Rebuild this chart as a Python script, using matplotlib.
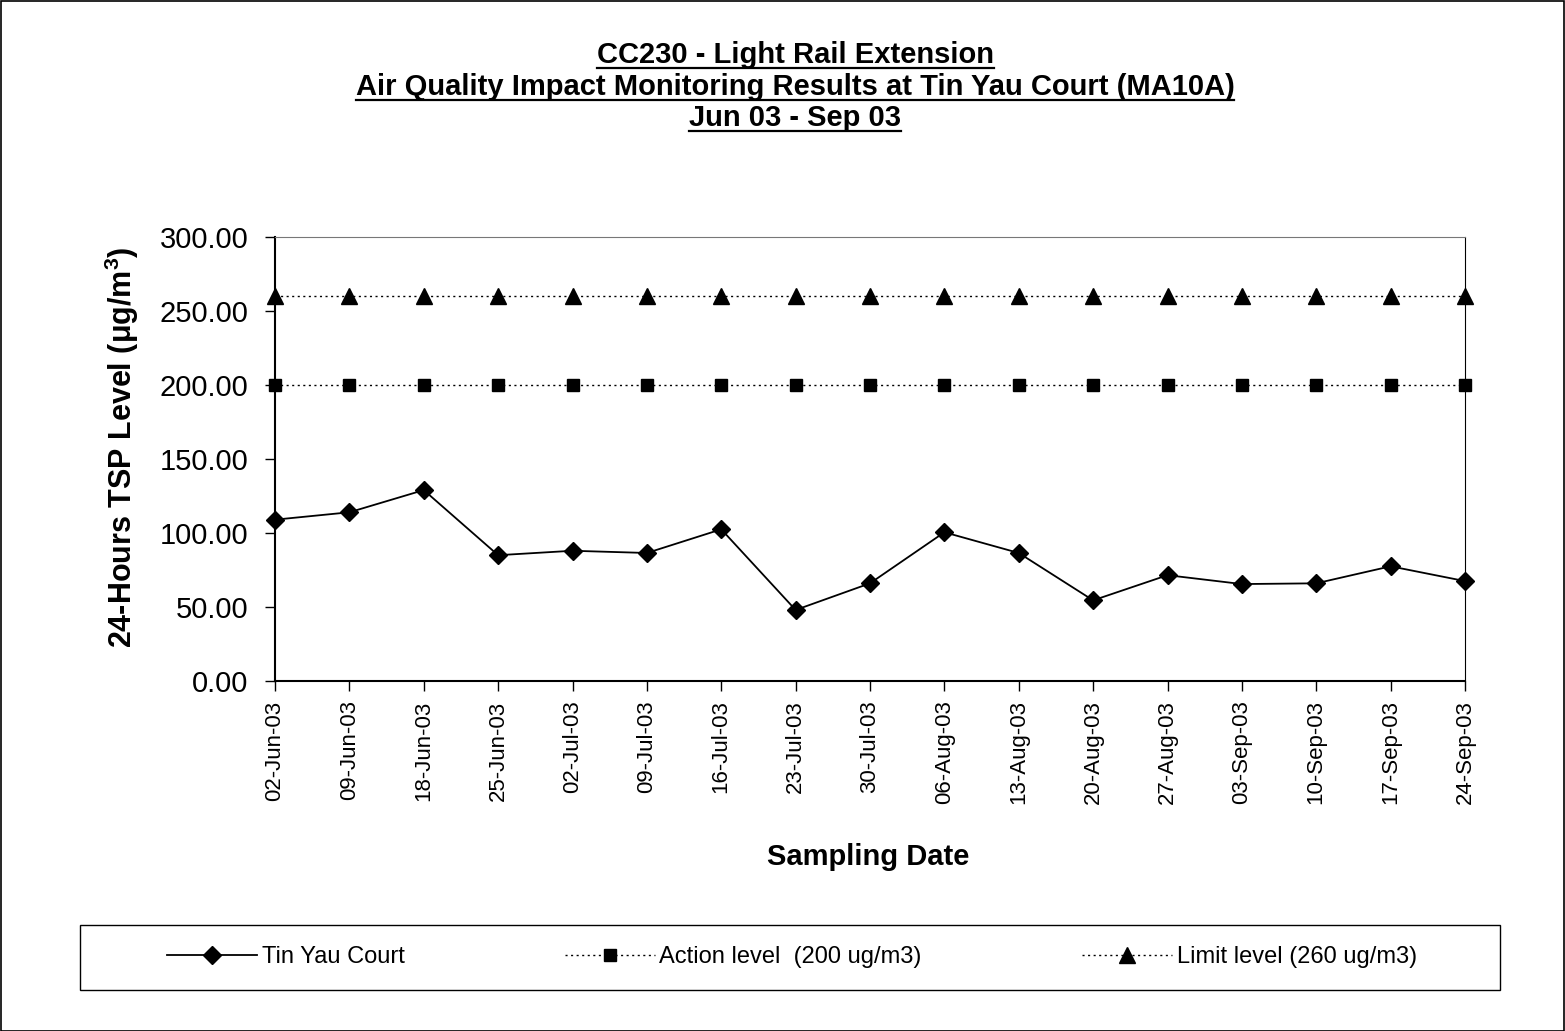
import numpy as np
import matplotlib
matplotlib.use("Agg")
import matplotlib.pyplot as plt
from matplotlib.patches import Rectangle

plt.rcParams['font.family'] = ['Liberation Sans', 'DejaVu Sans']
plt.rcParams['mathtext.fontset'] = 'custom'
plt.rcParams['mathtext.rm'] = 'Liberation Sans'
plt.rcParams['mathtext.bf'] = 'Liberation Sans:bold'

# data
dates = ['02-Jun-03', '09-Jun-03', '18-Jun-03', '25-Jun-03', '02-Jul-03', '09-Jul-03',
         '16-Jul-03', '23-Jul-03', '30-Jul-03', '06-Aug-03', '13-Aug-03', '20-Aug-03',
         '27-Aug-03', '03-Sep-03', '10-Sep-03', '17-Sep-03', '24-Sep-03']
tsp = [109, 114, 129, 85, 88, 86.5, 102.5, 48, 66, 100.5, 86.5, 54.5, 71.5, 65.5, 66, 77.5, 67.5]
action = [200] * len(dates)
limit = [260] * len(dates)
labels = ['Tin Yau Court', 'Action level  (200 ug/m3)', 'Limit level (260 ug/m3)']

W, H = 1565, 1031
fig = plt.figure(figsize=(W / 100, H / 100), dpi=100)
ax = fig.add_axes([275 / W, 1 - 681 / H, (1465 - 275) / W, (681 - 237) / H])

x = np.arange(len(dates))
dots = (0, (1.5, 2.5))
l1, = ax.plot(x, tsp, color='black', lw=1.3, marker='D', ms=9, clip_on=False, zorder=5)
l2, = ax.plot(x, action, color='black', lw=1, ls=dots, marker='s', ms=9, clip_on=False)
l3, = ax.plot(x, limit, color='black', lw=1, ls=dots, marker='^', ms=11, clip_on=False)

ax.set_xlim(0, len(dates) - 1)
ax.set_ylim(0, 300)
yt = np.arange(0, 301, 50)
ax.set_yticks(yt)
ax.set_yticklabels([f'{v:.2f}' for v in yt], fontsize=21)
ax.set_xticks(x)
ax.set_xticklabels(dates, rotation=90, fontsize=16)
ax.tick_params(axis='y', direction='out', length=7, width=1, pad=12)
ax.tick_params(axis='x', direction='out', length=7, width=1, pad=7)
ax.spines['left'].set_linewidth(1.5)
ax.spines['bottom'].set_linewidth(1.5)
ax.spines['top'].set_linewidth(0.8)
ax.spines['top'].set_color('#777777')
ax.spines['right'].set_linewidth(0.8)

fig.text(122 / W, 1 - 447 / H, r'24-Hours TSP Level ($\mathbf{\mu}$g/m$^\mathbf{3}$)', fontsize=22,
         fontweight='bold', rotation=90, ha='center', va='center')
fig.text(868 / W, 1 - 857 / H, 'Sampling Date', fontsize=21, fontweight='bold', ha='center', va='center')

titles = ['CC230 - Light Rail Extension',
          'Air Quality Impact Monitoring Results at Tin Yau Court (MA10A)',
          'Jun 03 - Sep 03']
title_y = [55, 87, 118]
fig.canvas.draw()
renderer = fig.canvas.get_renderer()
for t, yy in zip(titles, title_y):
    txt = fig.text(795 / W, 1 - yy / H, t, fontsize=21, fontweight='bold', ha='center', va='center')
    bb = txt.get_window_extent(renderer=renderer)
    uy = bb.y0 + 1
    fig.add_artist(plt.Line2D([bb.x0 / W, bb.x1 / W], [uy / H, uy / H], color='black', lw=1.6,
                              transform=fig.transFigure))

leg = fig.legend([l1, l2, l3], labels, loc='center', ncol=3,
                 bbox_to_anchor=(792 / W, 1 - 957 / H), fontsize=17, frameon=False,
                 handlelength=3.8, handletextpad=0.2, columnspacing=6.8)
fig.add_artist(Rectangle((80 / W, 1 - 990 / H), 1420 / W, 65 / H, transform=fig.transFigure,
                         fill=False, edgecolor='black', lw=1))

fig.add_artist(Rectangle((0.5 / W, 0.5 / H), 1 - 1.5 / W, 1 - 1.5 / H, transform=fig.transFigure,
                         fill=False, edgecolor='black', lw=1.2))

fig.savefig('out.png', dpi=100, facecolor='white')
